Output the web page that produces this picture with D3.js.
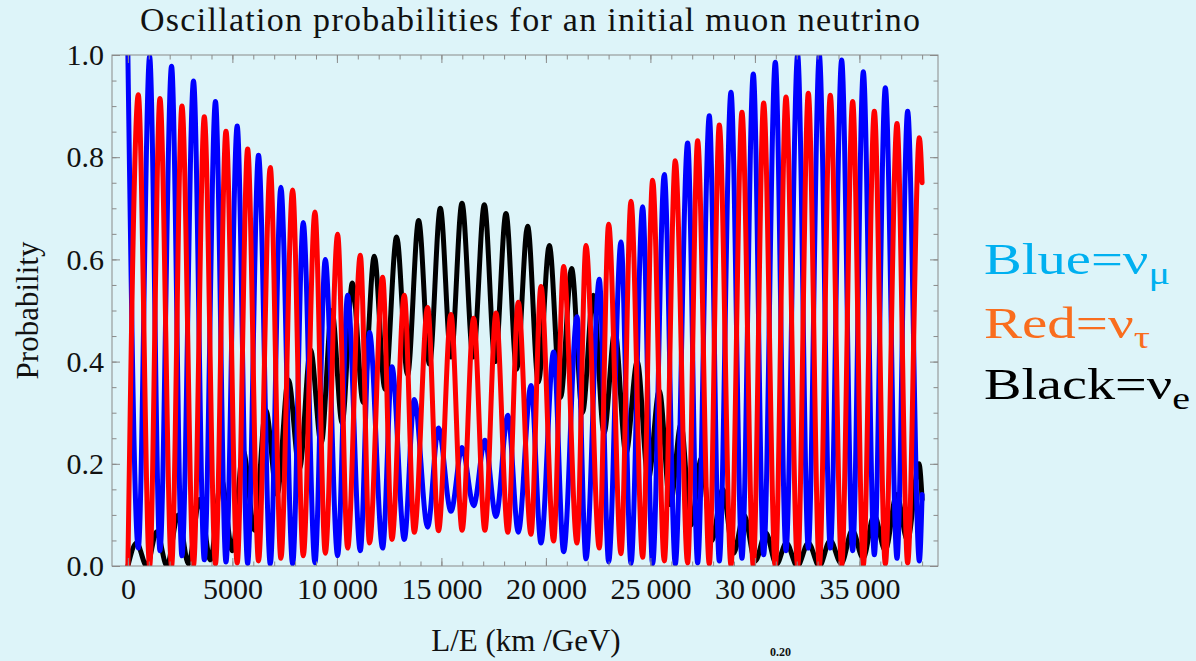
<!DOCTYPE html>
<html>
<head>
<meta charset="utf-8">
<script src="https://cdn.jsdelivr.net/npm/d3@7"></script>
<style>
  html, body { margin: 0; padding: 0; background: #DDF4F9; }
  svg { display: block; }
  text { font-family: "Liberation Serif", "Times New Roman", serif; }
</style>
</head>
<body>
<svg id="chart" width="1196" height="661"></svg>
<script>
// Turning points (L/E in km/GeV, probability) of each oscillation curve.
// nu_mu survival (blue)
const numuX = [0, 498, 1040, 1534, 2090, 2587, 3140, 3656, 4190, 4693, 5230, 5730, 6250, 6813, 7320, 7882,
  8390, 8950, 9445, 10035, 10514, 11120, 11560, 12189, 12635, 13225, 13704, 14342, 14860, 15458, 15990,
  16543, 17080, 17612, 18180, 18679, 19286, 19764, 20370, 20849, 21487, 21917, 22555, 23002, 23592, 24071,
  24629, 25107, 25665, 26191, 26781, 27260, 27818, 28296, 28855, 29381, 29923, 30418, 30976, 31487, 32045,
  32555, 33082, 33608, 34150, 34677, 35187, 35714, 36240, 36798, 37308, 37867, 38000];
const numuP = [1.0, 0.035, 0.997, 0.03, 0.978, 0.02, 0.949, 0.012, 0.909, 0.008, 0.861, 0.005, 0.804, 0.004,
  0.741, 0.004, 0.672, 0.006, 0.60, 0.02, 0.53, 0.03, 0.457, 0.035, 0.39, 0.052, 0.326, 0.076, 0.27, 0.107,
  0.232, 0.118, 0.246, 0.097, 0.295, 0.066, 0.353, 0.045, 0.419, 0.028, 0.488, 0.014, 0.561, 0.008, 0.634,
  0.005, 0.703, 0.004, 0.766, 0.004, 0.828, 0.006, 0.881, 0.01, 0.927, 0.015, 0.963, 0.022, 0.986, 0.03,
  1.0, 0.035, 1.0, 0.035, 0.99, 0.03, 0.967, 0.022, 0.936, 0.015, 0.89, 0.01, 0.14];

// nu_tau appearance (red)
const nutauX = [0, 498, 1040, 1534, 2090, 2587, 3140, 3656, 4190, 4693, 5230, 5730, 6250, 6813, 7320, 7882,
  8390, 8950, 9445, 10035, 10514, 11120, 11560, 12189, 12635, 13225, 13704, 14342, 14860, 15458, 15990,
  16543, 17080, 17612, 18180, 18679, 19286, 19764, 20370, 20849, 21487, 21917, 22555, 23002, 23592, 24071,
  24629, 25107, 25665, 26191, 26781, 27260, 27818, 28296, 28855, 29381, 29923, 30418, 30976, 31487, 32045,
  32555, 33082, 33608, 34150, 34677, 35187, 35714, 36240, 36798, 37308, 37867, 38000];
const nutauP = [0.0, 0.922, 0.0, 0.915, 0.0, 0.90, 0.002, 0.879, 0.004, 0.851, 0.006, 0.816, 0.01, 0.78,
  0.015, 0.736, 0.02, 0.693, 0.025, 0.649, 0.035, 0.608, 0.045, 0.565, 0.052, 0.53, 0.066, 0.506, 0.069,
  0.492, 0.07, 0.485, 0.07, 0.495, 0.066, 0.516, 0.062, 0.547, 0.049, 0.586, 0.045, 0.627, 0.035, 0.669,
  0.024, 0.714, 0.017, 0.755, 0.01, 0.793, 0.006, 0.832, 0.004, 0.863, 0.002, 0.888, 0.001, 0.906, 0.0,
  0.918, 0.0, 0.925, 0.0, 0.921, 0.001, 0.909, 0.002, 0.89, 0.004, 0.866, 0.006, 0.838, 0.75];

// nu_e appearance (black)
const nueX = [0, 416, 900, 1380, 1870, 2400, 2900, 3430, 3950, 4470, 5000, 5520, 6060, 6600, 7140, 7680,
  8210, 8740, 9250, 9760, 10250, 10740, 11260, 11790, 12300, 12858, 13380, 13911, 14430, 14948, 15460,
  15985, 16520, 17054, 17570, 18090, 18600, 19126, 19640, 20163, 20700, 21231, 21750, 22268, 22780, 23300,
  23830, 24370, 24900, 25425, 25950, 26462, 26940, 27440, 27940, 28456, 28980, 29480, 30020, 30520, 31030,
  31500, 32030, 32560, 33080, 33600, 34130, 34660, 35180, 35700, 36240, 36780, 37300, 37850, 38000];
const nueP = [0.0, 0.045, 0.0, 0.067, 0.0, 0.10, 0.004, 0.13, 0.012, 0.17, 0.03, 0.225, 0.07, 0.305, 0.14,
  0.364, 0.19, 0.423, 0.24, 0.50, 0.28, 0.554, 0.32, 0.606, 0.346, 0.644, 0.374, 0.676, 0.395, 0.70, 0.409,
  0.71, 0.409, 0.707, 0.40, 0.69, 0.385, 0.665, 0.36, 0.627, 0.33, 0.582, 0.30, 0.53, 0.26, 0.46, 0.22,
  0.40, 0.17, 0.343, 0.12, 0.277, 0.08, 0.211, 0.05, 0.15, 0.025, 0.10, 0.01, 0.065, 0.003, 0.045, 0.0,
  0.045, 0.0, 0.05, 0.005, 0.07, 0.015, 0.10, 0.03, 0.14, 0.05, 0.20, 0.13];

// Axis ticks and labels
const xMajor = [0, 5000, 10000, 15000, 20000, 25000, 30000, 35000];
const xTickLabels = ["0", "5000", "10\u2009000", "15\u2009000", "20\u2009000", "25\u2009000", "30\u2009000", "35\u2009000"];
const xMinor = d3.range(0, 38001, 1000);
const yMajor = [0, 0.2, 0.4, 0.6, 0.8, 1.0];
const yTickLabels = ["0.0", "0.2", "0.4", "0.6", "0.8", "1.0"];
const yMinor = d3.range(0, 1.0001, 0.05);

const titleText = "Oscillation probabilities for an initial muon neutrino";
const xTitle = "L/E (km /GeV)";
const yTitle = "Probability";

const series = [
  { name: "nue", xs: nueX, ps: nueP, color: "#000000" },
  { name: "numu", xs: numuX, ps: numuP, color: "#0000FF" },
  { name: "nutau", xs: nutauX, ps: nutauP, color: "#FF0000" }
];

const legendItems = [
  { label: "Blue=\u03BD", sub: "\u03BC", color: "#00B0F0", width: 186 },
  { label: "Red=\u03BD", sub: "\u03C4", color: "#F96D1E", width: 166 },
  { label: "Black=\u03BD", sub: "e", color: "#000000", width: 206 }
];

// Layout
const svg = d3.select("#chart");
const frame = { left: 112, right: 938, top: 55, bottom: 566 };

const x = d3.scaleLinear().domain([-760, 38760]).range([frame.left, frame.right]);
const y = d3.scaleLinear().domain([0, 1]).range([frame.bottom, frame.top]);

svg.append("rect").attr("width", 1196).attr("height", 661).attr("fill", "#DDF4F9");

// Clip the curves to the frame
svg.append("defs").append("clipPath").attr("id", "plotClip")
  .append("rect")
  .attr("x", frame.left).attr("y", frame.top)
  .attr("width", frame.right - frame.left).attr("height", frame.bottom - frame.top);

const line = d3.line()
  .x(d => x(d[0]))
  .y(d => y(d[1]))
  .curve(d3.curveMonotoneX);

const curves = svg.append("g").attr("clip-path", "url(#plotClip)");
series.forEach(s => {
  const pts = s.xs.map((v, i) => [v, s.ps[i]]);
  curves.append("path")
    .datum(pts)
    .attr("d", line)
    .attr("fill", "none")
    .attr("stroke", s.color)
    .attr("stroke-width", 5)
    .attr("stroke-linejoin", "round")
    .attr("stroke-linecap", "round");
});

// Frame and ticks
const tickColor = "#8a8a8a";
function styleAxis(g) {
  g.select(".domain").remove();
  g.selectAll(".tick line").attr("stroke", tickColor).attr("stroke-width", 1);
  g.selectAll(".tick text")
    .attr("fill", "#111")
    .style("font-family", "'Liberation Serif', 'Times New Roman', serif")
    .style("font-size", "30px");
}

// bottom
svg.append("g").attr("transform", `translate(0,${frame.bottom})`)
  .call(d3.axisBottom(x).tickValues(xMinor).tickFormat("").tickSizeInner(-4.5).tickSizeOuter(0)).call(styleAxis);
svg.append("g").attr("transform", `translate(0,${frame.bottom})`)
  .call(d3.axisBottom(x).tickValues(xMajor).tickFormat((d, i) => xTickLabels[i])
    .tickSizeInner(-8).tickSizeOuter(0).tickPadding(12)).call(styleAxis);
// top
svg.append("g").attr("transform", `translate(0,${frame.top})`)
  .call(d3.axisTop(x).tickValues(xMinor).tickFormat("").tickSizeInner(-4.5).tickSizeOuter(0)).call(styleAxis);
svg.append("g").attr("transform", `translate(0,${frame.top})`)
  .call(d3.axisTop(x).tickValues(xMajor).tickFormat("").tickSizeInner(-8).tickSizeOuter(0)).call(styleAxis);
// left
svg.append("g").attr("transform", `translate(${frame.left},0)`)
  .call(d3.axisLeft(y).tickValues(yMinor).tickFormat("").tickSizeInner(-4.5).tickSizeOuter(0)).call(styleAxis);
svg.append("g").attr("transform", `translate(${frame.left},0)`)
  .call(d3.axisLeft(y).tickValues(yMajor).tickFormat((d, i) => yTickLabels[i])
    .tickSizeInner(-8).tickSizeOuter(0).tickPadding(8)).call(styleAxis);
// right
svg.append("g").attr("transform", `translate(${frame.right},0)`)
  .call(d3.axisRight(y).tickValues(yMinor).tickFormat("").tickSizeInner(-4.5).tickSizeOuter(0)).call(styleAxis);
svg.append("g").attr("transform", `translate(${frame.right},0)`)
  .call(d3.axisRight(y).tickValues(yMajor).tickFormat("").tickSizeInner(-8).tickSizeOuter(0)).call(styleAxis);

svg.append("rect")
  .attr("x", frame.left).attr("y", frame.top)
  .attr("width", frame.right - frame.left).attr("height", frame.bottom - frame.top)
  .attr("fill", "none").attr("stroke", tickColor).attr("stroke-width", 1);

// Titles
svg.append("text")
  .attr("x", 530).attr("y", 31)
  .attr("text-anchor", "middle")
  .attr("textLength", 780).attr("lengthAdjust", "spacing")
  .style("font-size", "34px").attr("fill", "#111")
  .text(titleText);

svg.append("text")
  .attr("x", 526).attr("y", 651)
  .attr("text-anchor", "middle")
  .style("font-size", "31px").attr("fill", "#111")
  .text(xTitle);

svg.append("text")
  .attr("transform", `translate(38,${(frame.top + frame.bottom) / 2}) rotate(-90)`)
  .attr("text-anchor", "middle")
  .style("font-size", "31px").attr("fill", "#111")
  .text(yTitle);

// Superscript near the bottom edge
svg.append("text")
  .attr("x", 770).attr("y", 656)
  .style("font-size", "12px").style("font-weight", "bold").attr("fill", "#111")
  .text("0.20");

// Legend
const legend = svg.append("g");
const legendY = [274, 338, 399];
legendItems.forEach((d, i) => {
  const t = legend.append("text")
    .attr("x", 984).attr("y", legendY[i])
    .attr("textLength", d.width).attr("lengthAdjust", "spacingAndGlyphs")
    .style("font-size", "45px").attr("fill", d.color);
  t.append("tspan").text(d.label);
  t.append("tspan").attr("dy", "0.3em").style("font-size", "32px").text(d.sub);
});
</script>
</body>
</html>
